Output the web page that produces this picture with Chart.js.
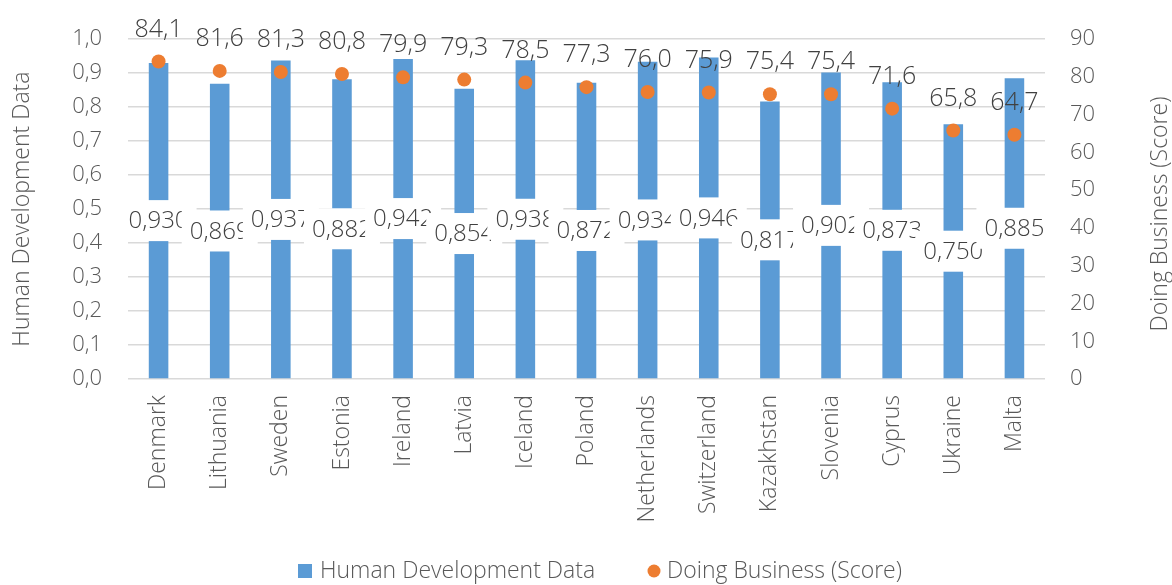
<!DOCTYPE html>
<html>
<head>
<meta charset="utf-8">
<script src="https://cdn.jsdelivr.net/npm/chart.js@4.4.1/dist/chart.umd.min.js"></script>
<style>
html,body{margin:0;padding:0;background:#fff;}
canvas{display:block;}
</style>
</head>
<body>
<canvas id="c" width="1172" height="585"></canvas>
<script>
const categories = ["Denmark","Lithuania","Sweden","Estonia","Ireland","Latvia","Iceland","Poland","Netherlands","Switzerland","Kazakhstan","Slovenia","Cyprus","Ukraine","Malta"];
const hdiValues = [0.930,0.869,0.937,0.882,0.942,0.854,0.938,0.872,0.934,0.946,0.817,0.902,0.873,0.750,0.885];
const dbScores = [84.1,81.6,81.3,80.8,79.9,79.3,78.5,77.3,76.0,75.9,75.4,75.4,71.6,65.8,64.7];
const seriesNames = ["Human Development Data","Doing Business (Score)"];
const leftAxisTitle = "Human Development Data";
const rightAxisTitle = "Doing Business (Score)";

const FONT = "'Open Sans', 'Noto Sans', sans-serif";
const W = '300 ';
const TXT = '#595959';
const DARK = '#404040';
const BLUE = '#5b9bd5';
const ORANGE = '#ed7d31';
const fmt = (v, d) => v.toFixed(d).replace('.', ',');

const decorPlugin = {
  id: 'decor',
  afterDatasetsDraw(chart) {
    const ctx = chart.ctx;
    ctx.save();
    ctx.textAlign = 'center';
    ctx.textBaseline = 'middle';
    const barMeta = chart.getDatasetMeta(1);
    ctx.font = W + "24px " + FONT;
    barMeta.data.forEach((bar, i) => {
      const yMid = (bar.y + bar.base) / 2;
      ctx.fillStyle = '#ffffff';
      ctx.fillRect(bar.x - 38, yMid - 20.5, 76, 41);
      ctx.fillStyle = DARK;
      ctx.fillText(fmt(hdiValues[i], 3), bar.x, yMid + 1);
    });
    const ptMeta = chart.getDatasetMeta(0);
    ctx.font = W + "25px " + FONT;
    ctx.fillStyle = DARK;
    ptMeta.data.forEach((pt, i) => {
      ctx.fillText(fmt(dbScores[i], 1), pt.x, pt.y - 32);
    });
    ctx.restore();
  },
  afterDraw(chart) {
    const ctx = chart.ctx;
    const area = chart.chartArea;
    ctx.save();
    ctx.fillStyle = TXT;
    ctx.font = W + "23px " + FONT;
    ctx.textAlign = 'center';
    ctx.textBaseline = 'middle';
    const midY = (area.top + area.bottom) / 2;
    ctx.save();
    ctx.translate(22, midY);
    ctx.rotate(-Math.PI / 2);
    ctx.fillText(leftAxisTitle, 0, 0);
    ctx.restore();
    ctx.save();
    ctx.translate(1160, midY + 5);
    ctx.rotate(-Math.PI / 2);
    ctx.fillText(rightAxisTitle, 0, 0);
    ctx.restore();
    ctx.textAlign = 'left';
    const ly = 571;
    ctx.fillStyle = BLUE;
    ctx.fillRect(298, ly - 7, 14, 14);
    ctx.fillStyle = TXT;
    ctx.fillText(seriesNames[0], 320, ly);
    ctx.fillStyle = ORANGE;
    ctx.beginPath();
    ctx.arc(654, ly, 6.5, 0, Math.PI * 2);
    ctx.fill();
    ctx.fillStyle = TXT;
    ctx.fillText(seriesNames[1], 667, ly);
    ctx.restore();
  }
};

new Chart(document.getElementById('c'), {
  data: {
    labels: categories,
    datasets: [
      {
        type: 'line',
        label: seriesNames[1],
        data: dbScores,
        yAxisID: 'y1',
        showLine: false,
        pointRadius: 7,
        pointHoverRadius: 7,
        pointBorderWidth: 0,
        pointBackgroundColor: ORANGE,
        borderColor: ORANGE,
        backgroundColor: ORANGE,
        order: 0,
        clip: false
      },
      {
        type: 'bar',
        label: seriesNames[0],
        data: hdiValues,
        yAxisID: 'y',
        backgroundColor: BLUE,
        borderWidth: 0,
        barPercentage: 0.32,
        categoryPercentage: 1.0,
        order: 1
      }
    ]
  },
  options: {
    responsive: false,
    animation: false,
    devicePixelRatio: 1,
    layout: { padding: { top: 29, right: 0, bottom: 0, left: 0 } },
    plugins: { legend: { display: false }, tooltip: { enabled: false } },
    scales: {
      x: {
        type: 'category',
        grid: { display: false, drawTicks: false },
        border: { display: false },
        ticks: {
          color: TXT,
          font: { family: FONT, size: 23, weight: 300 },
          maxRotation: 90,
          minRotation: 90,
          padding: 16,
          autoSkip: false
        },
        afterFit(scale) { scale.height = 206; }
      },
      y: {
        position: 'left',
        min: 0,
        max: 1,
        grid: { color: '#d9d9d9', lineWidth: 1.5, drawTicks: false },
        border: { display: false },
        ticks: {
          stepSize: 0.1,
          color: TXT,
          font: { family: FONT, size: 22, weight: 300 },
          padding: 26,
          callback: (v) => fmt(v, 1)
        },
        afterFit(scale) { scale.width = 128; }
      },
      y1: {
        position: 'right',
        min: 0,
        max: 90,
        grid: { display: false, drawOnChartArea: false, drawTicks: false },
        border: { display: false },
        ticks: {
          stepSize: 10,
          color: TXT,
          font: { family: FONT, size: 22, weight: 300 },
          padding: 25,
          callback: (v) => String(v)
        },
        afterFit(scale) { scale.width = 127; }
      }
    }
  },
  plugins: [decorPlugin]
});
</script>
</body>
</html>
